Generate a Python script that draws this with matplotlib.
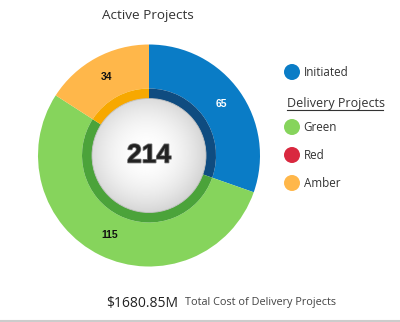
import numpy as np
import matplotlib
matplotlib.use("Agg")
import matplotlib.pyplot as plt
from matplotlib.patches import Circle
import matplotlib.patheffects as pe

plt.rcParams['font.family'] = ['Open Sans', 'DejaVu Sans']

# data
categories = ['Initiated', 'Green', 'Red', 'Amber']
counts = [65, 115, 0, 34]
colors = ['#0a7cc6', '#86d45c', '#d9283f', '#ffb74a']
ring_colors = ['#0f4c80', '#4ba33a', '#b01c30', '#f7a800']
label_colors = ['white', '#111111', '#111111', '#111111']
total_cost = '$1680.85M'
total_cost_label = 'Total Cost of Delivery Projects'

W, H = 400, 322
fig = plt.figure(figsize=(W / 100, H / 100), dpi=100)
ax = fig.add_axes([0, 0, 1, 1])

cx, cy = 149, H - 155.5
R = 111

wedges, _ = ax.pie(counts, radius=R, center=(cx, cy), startangle=90, counterclock=False,
                   colors=colors, wedgeprops=dict(width=R - 67, linewidth=0))
ax.pie(counts, radius=67, center=(cx, cy), startangle=90, counterclock=False,
       colors=ring_colors, wedgeprops=dict(width=11, linewidth=0))

# value labels in the outer ring
for w, n, c in zip(wedges, counts, label_colors):
    if n == 0:
        continue
    a = np.deg2rad((w.theta1 + w.theta2) / 2)
    r = 89
    ax.text(cx + r * np.cos(a), cy + r * np.sin(a), str(n), ha='center', va='center',
            fontsize=7.5, fontweight='bold', color=c, family=['Liberation Sans'])

# center disc with radial gradient
rc = 57
yy, xx = np.mgrid[-1:1:200j, -1:1:200j]
d = np.sqrt((xx + 0.05) ** 2 + (yy - 0.05) ** 2)
img = np.clip(1 - 0.15 * d ** 2, 0, 1)
im = ax.imshow(img, cmap='gray', vmin=0, vmax=1, extent=[cx - rc, cx + rc, cy - rc, cy + rc],
               origin='lower', zorder=3, interpolation='bilinear')
disc = Circle((cx, cy), rc, transform=ax.transData, facecolor='none', edgecolor='none')
ax.add_patch(disc)
im.set_clip_path(disc)
ax.add_patch(Circle((cx, cy), rc, facecolor='none', edgecolor='#c4c4c4', linewidth=0.6, zorder=4))

ax.text(cx, cy, str(sum(counts)), ha='center', va='center', fontsize=19, fontweight='bold',
        color='#222222', family=['Liberation Sans'], zorder=5,
        path_effects=[pe.withStroke(linewidth=1.2, foreground='#777777')])

ax.text(148, H - 15, 'Active Projects', ha='center', va='center', fontsize=9.7, color='#333333')

# legend
legend_y = {'Initiated': 72, 'Green': 127, 'Red': 155, 'Amber': 183}
for name, col in zip(categories, colors):
    y = H - legend_y[name]
    ax.add_patch(Circle((292, y), 8, facecolor=col, edgecolor='none'))
    ax.text(303.5, y, name, ha='left', va='center', fontsize=8.4, color='#333333')
ax.text(287, H - 103, 'Delivery Projects', ha='left', va='center', fontsize=9, color='#333333')
ax.plot([287, 383], [H - 110, H - 110], color='#333333', linewidth=0.8)

# footer
ax.text(106, H - 303, total_cost, ha='left', va='center', fontsize=10, color='#222222')
ax.text(185, H - 303, total_cost_label, ha='left', va='center', fontsize=7.8, color='#444444')
ax.plot([0, W], [1, 1], color='#cccccc', linewidth=1.5)

ax.set_xlim(0, W)
ax.set_ylim(0, H)
ax.set_aspect('equal')
ax.set_axis_off()
fig.savefig('out.png', dpi=100)
